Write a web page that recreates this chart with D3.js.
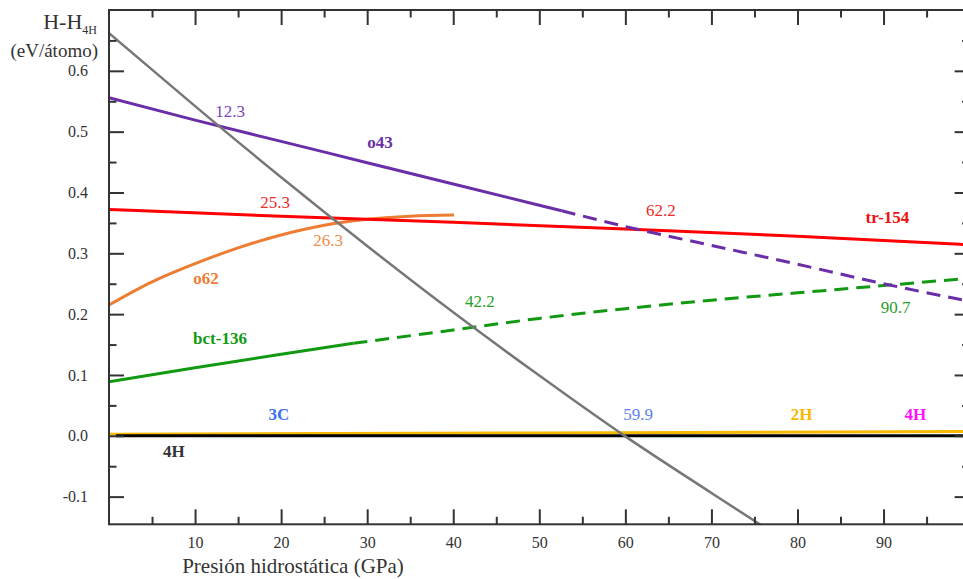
<!DOCTYPE html>
<html>
<head>
<meta charset="utf-8">
<script src="https://cdn.jsdelivr.net/npm/d3@7"></script>
<style>
  html, body { margin: 0; padding: 0; background: #fff; }
</style>
</head>
<body>
<svg id="chart" width="963" height="579"></svg>
<script>
// Enthalpy of each phase relative to 4H vs hydrostatic pressure (GPa)
const grayP   = [0, 10, 20, 30, 40, 50, 60, 70, 76];
const grayE   = [0.662, 0.542, 0.425, 0.312, 0.203, 0.099, -0.001, -0.094, -0.149];

const o43P    = [0, 10, 20, 30, 40, 52.6, 60, 70, 80, 90, 100];
const o43E    = [0.556, 0.519, 0.484, 0.449, 0.414, 0.370, 0.344, 0.313, 0.282, 0.250, 0.221];
const o43StableTo = 52.6;

const tr154P  = [0, 20, 40, 60, 80, 100];
const tr154E  = [0.372, 0.361, 0.351, 0.340, 0.328, 0.314];

const o62P    = [0, 5, 10, 15, 20, 25, 30, 35, 40.1];
const o62E    = [0.215, 0.253, 0.283, 0.309, 0.330, 0.346, 0.356, 0.361, 0.363];

const bct136P = [0, 10, 20, 28.4, 40, 50, 60, 70, 80, 90, 100];
const bct136E = [0.089, 0.112, 0.134, 0.152, 0.174, 0.193, 0.209, 0.223, 0.235, 0.247, 0.259];
const bct136StableTo = 28.4;

const h2P     = [0, 50, 100];
const h2E     = [0.0025, 0.0048, 0.0072];

const h4P     = [0.8, 100];
const h4E     = [0, 0];

// Axis ticks
const xMajor = [10, 20, 30, 40, 50, 60, 70, 80, 90];
const xMinor = [5, 15, 25, 35, 45, 55, 65, 75, 85, 95];
const yMajor = [-0.1, 0.0, 0.1, 0.2, 0.3, 0.4, 0.5, 0.6];
const yMinor = [-0.05, 0.05, 0.15, 0.25, 0.35, 0.45, 0.55, 0.65];

// Text annotations, anchored in data coordinates (pressure, energy)
const crossingLabels = [
  { text: "12.3", p: 14.06, e: 0.524, color: "#7a43bd" },
  { text: "25.3", p: 19.29, e: 0.3745, color: "#ee2a2a" },
  { text: "26.3", p: 25.45, e: 0.312, color: "#ef8c4a" },
  { text: "42.2", p: 43.1, e: 0.212, color: "#2a9e2a" },
  { text: "62.2", p: 64.14, e: 0.361, color: "#ee2a2a" },
  { text: "90.7", p: 91.39, e: 0.202, color: "#2a9e2a" },
  { text: "59.9", p: 61.47, e: 0.0252, color: "#5b7ff2" }
];
const phaseLabels = [
  { text: "o43",     p: 31.49, e: 0.473,   color: "#6a2fa8" },
  { text: "tr-154",  p: 90.46, e: 0.350,   color: "#ee1111" },
  { text: "o62",     p: 11.27, e: 0.2495,  color: "#ee7d34" },
  { text: "bct-136", p: 12.9,  e: 0.151,   color: "#119a11" },
  { text: "3C",      p: 19.75, e: 0.0252,  color: "#3a6ff0" },
  { text: "2H",      p: 80.49, e: 0.0252,  color: "#f6b800" },
  { text: "4H",      p: 93.69, e: 0.0252,  color: "#ff10ff" },
  { text: "4H",      p: 7.55,  e: -0.0349, color: "#333333" }
];

const FONT = '"Liberation Serif", "Times New Roman", serif';
const svg = d3.select("#chart");
const mLeft = 109, mRight = 969.6, mTop = 10, mBottom = 524.3;

const x = d3.scaleLinear().domain([0, 100]).range([mLeft, mRight]);
const y = d3.scaleLinear().domain([-0.1455, 0.7]).range([mBottom, mTop]);

svg.append("rect").attr("width", 963).attr("height", 579).attr("fill", "#fff");

svg.append("defs").append("clipPath").attr("id", "plot")
  .append("rect").attr("x", mLeft).attr("y", mTop)
  .attr("width", mRight - mLeft).attr("height", mBottom - mTop);

const zip = (P, E) => P.map((p, i) => ({ p, e: E[i] }));
const line = d3.line().x(d => x(d.p)).y(d => y(d.e)).curve(d3.curveMonotoneX);

const plot = svg.append("g").attr("clip-path", "url(#plot)");

function draw(data, color, width, dash) {
  plot.append("path")
    .attr("d", line(data))
    .attr("fill", "none")
    .attr("stroke", color)
    .attr("stroke-width", width)
    .attr("stroke-dasharray", dash || null)
    .attr("stroke-linecap", "butt");
}

// Split a series into its stable (solid) and metastable (dashed) parts
function drawSplit(P, E, splitAt, color, width) {
  const pts = zip(P, E);
  draw(pts.filter(d => d.p <= splitAt), color, width);
  draw(pts.filter(d => d.p >= splitAt), color, width, "14,8");
}

draw(zip(h2P, h2E), "#f6b800", 3);
draw(zip(h4P, h4E), "#000000", 3);
draw(zip(o62P, o62E), "#ee7d34", 3);
drawSplit(bct136P, bct136E, bct136StableTo, "#119a11", 3);
draw(zip(tr154P, tr154E), "#ff0000", 3);
drawSplit(o43P, o43E, o43StableTo, "#6a2fa8", 3);
draw(zip(grayP, grayE), "#777777", 2.5);

// Frame and ticks
const axisColor = "#333";
const yFmt = d => d.toFixed(1);
function styleAxis(g) {
  g.attr("font-family", null).attr("font-size", null);
  g.select(".domain").remove();
  g.selectAll(".tick line").attr("stroke", axisColor).attr("stroke-width", 2);
  g.selectAll(".tick text").attr("fill", "#333")
    .style("font-family", FONT).style("font-size", "16px");
}

svg.append("g").attr("transform", `translate(0,${mBottom})`)
  .call(d3.axisBottom(x).tickValues(xMajor).tickSize(-15).tickPadding(12).tickFormat(d => String(d)))
  .call(styleAxis);
svg.append("g").attr("transform", `translate(0,${mBottom})`)
  .call(d3.axisBottom(x).tickValues(xMinor).tickSize(-7.5).tickFormat(""))
  .call(styleAxis);
svg.append("g").attr("transform", `translate(0,${mTop})`)
  .call(d3.axisTop(x).tickValues(xMajor).tickSize(-15).tickFormat(""))
  .call(styleAxis);
svg.append("g").attr("transform", `translate(0,${mTop})`)
  .call(d3.axisTop(x).tickValues(xMinor).tickSize(-7.5).tickFormat(""))
  .call(styleAxis);

svg.append("g").attr("transform", `translate(${mLeft},0)`)
  .call(d3.axisLeft(y).tickValues(yMajor).tickSize(-15).tickPadding(21).tickFormat(yFmt))
  .call(styleAxis);
svg.append("g").attr("transform", `translate(${mLeft},0)`)
  .call(d3.axisLeft(y).tickValues(yMinor).tickSize(-7.5).tickFormat(""))
  .call(styleAxis);
svg.append("g").attr("transform", `translate(${mRight},0)`)
  .call(d3.axisRight(y).tickValues(yMajor).tickSize(-15).tickFormat(""))
  .call(styleAxis);
svg.append("g").attr("transform", `translate(${mRight},0)`)
  .call(d3.axisRight(y).tickValues(yMinor).tickSize(-7.5).tickFormat(""))
  .call(styleAxis);

svg.append("rect")
  .attr("x", mLeft).attr("y", mTop)
  .attr("width", mRight - mLeft).attr("height", mBottom - mTop)
  .attr("fill", "none").attr("stroke", axisColor).attr("stroke-width", 2);

// Annotations
svg.append("g").selectAll("text").data(crossingLabels).join("text")
  .attr("x", d => x(d.p)).attr("y", d => y(d.e))
  .attr("text-anchor", "middle")
  .style("font-family", FONT).style("font-size", "17px")
  .attr("fill", d => d.color).text(d => d.text);

svg.append("g").selectAll("text").data(phaseLabels).join("text")
  .attr("x", d => x(d.p)).attr("y", d => y(d.e))
  .attr("text-anchor", "middle")
  .style("font-family", FONT).style("font-size", "17px").style("font-weight", "bold")
  .attr("fill", d => d.color).text(d => d.text);

// Axis titles
const yTitle = svg.append("text").attr("x", 97).attr("y", 29)
  .attr("text-anchor", "end").style("font-family", FONT).style("font-size", "22px")
  .attr("fill", "#333");
yTitle.append("tspan").text("H-H");
yTitle.append("tspan").style("font-size", "12px").attr("dy", 5).text("4H");

svg.append("text").attr("x", 98).attr("y", 57)
  .attr("text-anchor", "end").style("font-family", FONT).style("font-size", "19px")
  .attr("fill", "#333").text("(eV/átomo)");

svg.append("text").attr("x", 293).attr("y", 573)
  .attr("text-anchor", "middle").style("font-family", FONT).style("font-size", "21px")
  .attr("fill", "#333").text("Presión hidrostática (GPa)");
</script>
</body>
</html>
